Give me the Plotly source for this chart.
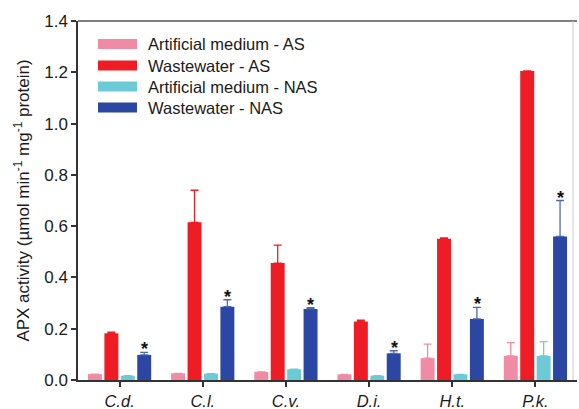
import plotly.graph_objects as go

# Species and APX activity (µmol min-1 mg-1 protein), mean and upper error
species = ["C.d.", "C.l.", "C.v.", "D.i.", "H.t.", "P.k."]
series_names = ["Artificial medium - AS", "Wastewater - AS",
                "Artificial medium - NAS", "Wastewater - NAS"]
am_as = [0.023, 0.026, 0.032, 0.022, 0.085, 0.094]
am_as_err = [0.0, 0.0, 0.0, 0.0, 0.055, 0.052]
ww_as = [0.182, 0.615, 0.456, 0.228, 0.551, 1.205]
ww_as_err = [0.005, 0.125, 0.07, 0.005, 0.003, 0.0]
am_nas = [0.017, 0.025, 0.042, 0.017, 0.022, 0.094]
am_nas_err = [0.0, 0.0, 0.0, 0.0, 0.0, 0.056]
ww_nas = [0.098, 0.286, 0.277, 0.104, 0.238, 0.56]
ww_nas_err = [0.01, 0.027, 0.005, 0.01, 0.045, 0.14]
significant = [True, True, True, True, True, True]

colors = ["#F08BA6", "#EE1D25", "#6CCAD6", "#2B47A3"]
err_colors = ["#F08BA6", "#EE1D25", "#6CCAD6", "#5068AE"]
values = [am_as, ww_as, am_nas, ww_nas]
errors = [am_as_err, ww_as_err, am_nas_err, ww_nas_err]

W, H = 579, 409
L, R, T, B = 78, 2, 21, 29
plot_w = W - L - R
plot_h = H - T - B

fig = go.Figure()
for name, vals, errs, col, ecol in zip(series_names, values, errors, colors, err_colors):
    fig.add_trace(go.Bar(
        x=species, y=vals, name=name, marker=dict(color=col, line=dict(width=0)),
        error_y=dict(type="data", array=errs, arrayminus=[0] * len(errs),
                     symmetric=False, color=ecol, thickness=1.3, width=4),
        showlegend=False,
    ))

# significance stars above the wastewater - NAS bars
for i, sp in enumerate(species):
    if significant[i]:
        fig.add_annotation(x=sp, y=ww_nas[i] + ww_nas_err[i], xref="x", yref="y",
                           text="<b>*</b>", showarrow=False, xshift=25, yshift=-9,
                           yanchor="bottom", font=dict(size=18, color="#111111"))

# legend drawn as wide colour patches with labels
def px_to_paper(px, py):
    return (px - L) / plot_w, (H - B - py) / plot_h

row_y = [44, 65.5, 86.5, 107.5]
for name, col, ry in zip(series_names, colors, row_y):
    x0, y0 = px_to_paper(98, ry + 5)
    x1, y1 = px_to_paper(137, ry - 5)
    fig.add_shape(type="rect", xref="paper", yref="paper", x0=x0, x1=x1, y0=y0, y1=y1,
                  fillcolor=col, line=dict(width=0))
    tx, ty = px_to_paper(146, ry)
    fig.add_annotation(x=tx, y=ty, xref="paper", yref="paper", text=name,
                       showarrow=False, xanchor="left", yanchor="middle",
                       font=dict(size=16.5, color="#1a1a1a"))

fig.update_layout(
    width=W, height=H,
    margin=dict(l=L, r=R, t=T, b=B, pad=0, autoexpand=False),
    paper_bgcolor="white", plot_bgcolor="white",
    barmode="group", bargap=0.21, bargroupgap=0.15,
    font=dict(family="Liberation Sans, Arial, sans-serif", color="#1a1a1a"),
)
fig.update_xaxes(
    range=[-0.5, 5.5], showline=True, linecolor="#333333", linewidth=1.5,
    ticks="outside", ticklen=5, tickwidth=1.5, tickcolor="#333333",
    tickfont=dict(size=16.5), showgrid=False, automargin=False,
    ticktext=[f"<i>{s}</i>" for s in species], tickvals=species,
    mirror=False,
)
fig.update_yaxes(
    range=[0, 1.4], dtick=0.2, tickformat=".1f", showline=True, linecolor="#333333",
    linewidth=1.5, ticks="outside", ticklen=5, tickwidth=1.5, tickcolor="#333333",
    tickfont=dict(size=17), showgrid=False, zeroline=False, automargin=False,
    title=dict(text="APX activity (µmol min<sup>-1</sup> mg<sup>-1</sup> protein)",
               font=dict(size=17), standoff=10),
)
# top frame line and faint right edge
fig.add_shape(type="line", xref="paper", yref="paper", x0=0, x1=1, y0=1, y1=1,
              line=dict(color="#555555", width=1.5))
fig.add_shape(type="line", xref="paper", yref="paper", x0=0.992, x1=0.992, y0=0, y1=1,
              line=dict(color="#cccccc", width=1))

fig.write_html("out.html")
